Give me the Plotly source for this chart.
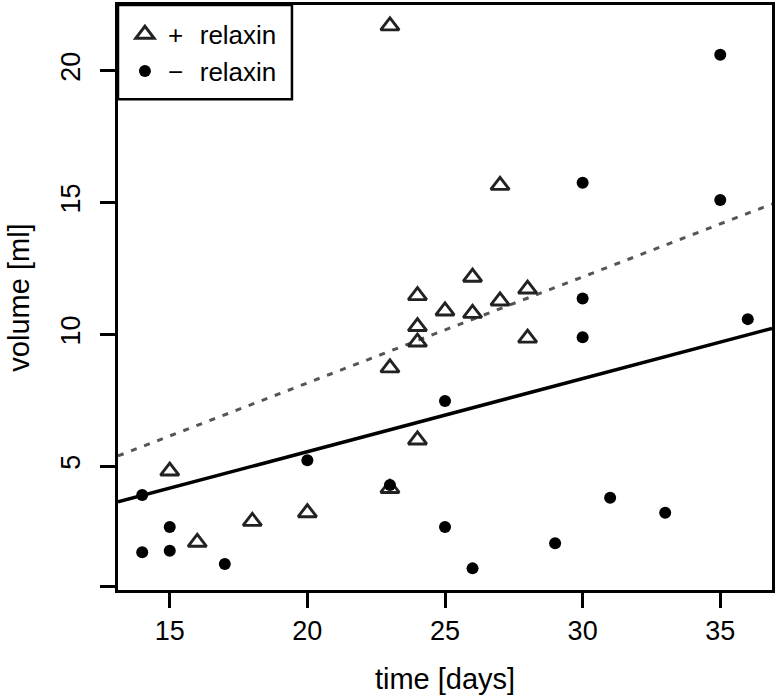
import plotly.graph_objects as go

# + relaxin (open triangles)
plus_time = [23, 27, 24, 26, 25, 27, 28, 26, 24, 24, 28, 23, 24, 15, 23, 20, 18, 16]
plus_vol = [21.7, 15.65, 11.47, 12.17, 10.89, 11.27, 11.72, 10.8, 10.3, 9.71, 9.86, 8.73, 6.0, 4.82, 4.16, 3.24, 2.91, 2.12]

# - relaxin (filled circles)
minus_time = [14, 14, 15, 15, 17, 20, 23, 25, 25, 26, 29, 31, 33, 35, 30, 35, 30, 30, 36]
minus_vol = [3.91, 1.74, 2.7, 1.8, 1.3, 5.23, 4.29, 2.7, 7.48, 1.13, 2.08, 3.81, 3.24, 20.6, 15.75, 15.1, 11.36, 9.89, 10.58]

# regression lines (intercept, slope)
plus_fit = (0.12, 0.402)
minus_fit = (0.015, 0.277)

x_range = [13.12, 36.88]
y_range = [0.31, 22.49]
y_ticks = [0.45, 5, 10, 15, 20]
y_ticktext = ["", "5", "10", "15", "20"]
x_ticks = [15, 20, 25, 30, 35]

FONT = "Liberation Sans, Arial, sans-serif"

fig = go.Figure()

fig.add_trace(go.Scatter(
    x=x_range, y=[plus_fit[0] + plus_fit[1] * v for v in x_range],
    mode="lines", line=dict(color="#555555", width=3, dash="6px,8px"),
    showlegend=False, hoverinfo="skip"))
fig.add_trace(go.Scatter(
    x=x_range, y=[minus_fit[0] + minus_fit[1] * v for v in x_range],
    mode="lines", line=dict(color="black", width=3.5),
    showlegend=False, hoverinfo="skip"))

fig.add_trace(go.Scatter(
    x=plus_time, y=plus_vol, mode="markers", name="+  \u200arelaxin",
    marker=dict(symbol="triangle-up-open", size=16, color="#222222",
                line=dict(width=2.9, color="#222222"))))
fig.add_trace(go.Scatter(
    x=minus_time, y=minus_vol, mode="markers", name="\u2212  \u200arelaxin",
    marker=dict(symbol="circle", size=12, color="black")))

axis_common = dict(showline=True, linecolor="black", linewidth=3, mirror=True,
                   ticks="outside", ticklen=15, tickwidth=3, tickcolor="black",
                   showgrid=False, zeroline=False, automargin=False,
                   tickfont=dict(family=FONT, size=27, color="black"))

fig.update_xaxes(range=x_range, tickvals=x_ticks, ticklabelstandoff=0,
                 title=dict(text="time [days]", font=dict(family=FONT, size=29, color="black"), standoff=24),
                 **axis_common)
fig.update_yaxes(range=y_range, tickvals=y_ticks, ticktext=y_ticktext, tickangle=-90,
                 ticklabelstandoff=9,
                 title=dict(text="volume [ml]", font=dict(family=FONT, size=29, color="black"), standoff=19),
                 **axis_common)

# legend frame
fig.add_shape(type="rect", xref="paper", yref="paper", x0=0, x1=0.266, y0=0.839, y1=1,
              line=dict(color="black", width=2.5), fillcolor="rgba(0,0,0,0)", layer="above")

fig.update_layout(
    width=776, height=698,
    margin=dict(l=118, r=4, t=5, b=108),
    plot_bgcolor="white", paper_bgcolor="white",
    font=dict(family=FONT, color="black"),
    legend=dict(x=0.006, y=0.99, xanchor="left", yanchor="top",
                borderwidth=0, bgcolor="rgba(0,0,0,0)",
                font=dict(family=FONT, size=26, color="black"),
                itemsizing="trace", itemwidth=36, tracegroupgap=0),
)

fig.write_html("out.html", config={"displayModeBar": False},
               post_script="document.body.style.margin='0';document.body.style.overflow='hidden';")
